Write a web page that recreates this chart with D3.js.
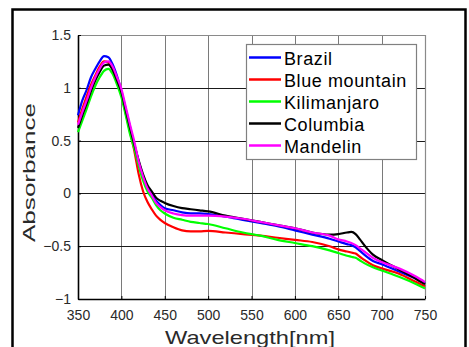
<!DOCTYPE html>
<html>
<head>
<meta charset="utf-8">
<script src="https://cdn.jsdelivr.net/npm/d3@7"></script>
<style>
  html, body { margin: 0; padding: 0; background: #fff; }
  svg { display: block; font-family: "Liberation Sans", Arial, sans-serif; }
</style>
</head>
<body>
<div id="chart"></div>
<script>
// wavelength axis (nm)
const wavelengths = [350,355,360,365,370,375,380,385,390,395,400,405,410,415,420,425,430,435,440,445,450,460,470,480,490,500,520,540,560,580,600,620,640,650,660,665,670,675,680,690,700,720,740,750];

const brazil = [0.74,0.88,0.98,1.10,1.18,1.25,1.30,1.29,1.22,1.11,0.97,0.80,0.63,0.46,0.30,0.16,0.05,-0.01,-0.07,-0.11,-0.14,-0.16,-0.18,-0.19,-0.19,-0.195,-0.22,-0.25,-0.28,-0.31,-0.35,-0.39,-0.43,-0.455,-0.48,-0.49,-0.51,-0.545,-0.58,-0.64,-0.67,-0.74,-0.81,-0.85];
const blueMountain = [0.67,0.80,0.92,1.03,1.12,1.20,1.25,1.24,1.18,1.07,0.94,0.76,0.58,0.40,0.18,0.02,-0.08,-0.15,-0.21,-0.25,-0.28,-0.32,-0.35,-0.36,-0.36,-0.355,-0.37,-0.385,-0.40,-0.42,-0.44,-0.46,-0.50,-0.53,-0.55,-0.56,-0.57,-0.60,-0.63,-0.68,-0.71,-0.76,-0.84,-0.88];
const kilimanjaro = [0.58,0.69,0.80,0.92,1.02,1.10,1.16,1.18,1.13,1.03,0.91,0.74,0.56,0.42,0.26,0.12,0.02,-0.04,-0.11,-0.16,-0.19,-0.23,-0.25,-0.27,-0.28,-0.29,-0.33,-0.37,-0.40,-0.44,-0.47,-0.50,-0.54,-0.565,-0.59,-0.60,-0.61,-0.635,-0.66,-0.70,-0.73,-0.79,-0.86,-0.90];
const columbia = [0.62,0.74,0.85,0.97,1.07,1.15,1.21,1.22,1.17,1.07,0.96,0.79,0.62,0.46,0.31,0.18,0.08,0.02,-0.04,-0.07,-0.09,-0.12,-0.14,-0.15,-0.16,-0.17,-0.21,-0.24,-0.27,-0.30,-0.33,-0.37,-0.39,-0.385,-0.37,-0.365,-0.385,-0.435,-0.49,-0.58,-0.63,-0.72,-0.81,-0.86];
const mandelin = [0.65,0.77,0.88,1.00,1.10,1.18,1.24,1.25,1.20,1.10,0.99,0.82,0.65,0.49,0.30,0.16,0.05,-0.02,-0.09,-0.13,-0.16,-0.19,-0.205,-0.21,-0.21,-0.21,-0.22,-0.24,-0.27,-0.30,-0.33,-0.37,-0.40,-0.435,-0.455,-0.47,-0.49,-0.52,-0.55,-0.61,-0.65,-0.71,-0.79,-0.84];

const seriesNames = ["Brazil", "Blue mountain", "Kilimanjaro", "Columbia", "Mandelin"];
const seriesColors = ["#0000ff", "#ff0000", "#00ff00", "#000000", "#ff00ff"];
const seriesValues = [brazil, blueMountain, kilimanjaro, columbia, mandelin];

const xTicks = [350,400,450,500,550,600,650,700,750];
const yTicks = [-1,-0.5,0,0.5,1,1.5];

const width = 469, height = 347;
const plot = { left: 78, right: 425, top: 35, bottom: 299 };

const svg = d3.select("#chart").append("svg")
  .attr("width", width)
  .attr("height", height);

// outer frame (cut off at bottom)
svg.append("rect")
  .attr("x", 12.5).attr("y", 9.5)
  .attr("width", 453).attr("height", 360)
  .attr("fill", "none")
  .attr("stroke", "#000")
  .attr("stroke-width", 2.5);

const x = d3.scaleLinear().domain([350, 750]).range([plot.left, plot.right]);
const y = d3.scaleLinear().domain([-1, 1.5]).range([plot.bottom, plot.top]);

// grid
svg.append("g").selectAll("line")
  .data(xTicks.slice(1, -1))
  .join("line")
    .attr("x1", d => Math.round(x(d)) + 0.5).attr("x2", d => Math.round(x(d)) + 0.5)
    .attr("y1", plot.top).attr("y2", plot.bottom)
    .attr("stroke", "#7a7a7a").attr("stroke-width", 1);

svg.append("g").selectAll("line")
  .data(yTicks.slice(1, -1))
  .join("line")
    .attr("x1", plot.left).attr("x2", plot.right)
    .attr("y1", d => Math.round(y(d)) + 0.5).attr("y2", d => Math.round(y(d)) + 0.5)
    .attr("stroke", "#1a1a1a").attr("stroke-width", 1);

// top / right frame in grey
svg.append("path")
  .attr("d", `M${plot.left},${plot.top + 0.5}H${plot.right + 0.5}V${plot.bottom}`)
  .attr("fill", "none")
  .attr("stroke", "#8a8a8a").attr("stroke-width", 1.2);

// axes
const xAxis = svg.append("g")
  .attr("transform", `translate(0,${plot.bottom})`)
  .call(d3.axisBottom(x).tickValues(xTicks).tickSizeInner(-3).tickSizeOuter(0).tickPadding(8));
const yAxis = svg.append("g")
  .attr("transform", `translate(${plot.left},0)`)
  .call(d3.axisLeft(y).tickValues(yTicks).tickSizeInner(-3).tickSizeOuter(0).tickPadding(8)
    .tickFormat(d => d < 0 ? "\u2212" + Math.abs(d) : String(d)));

[xAxis, yAxis].forEach(g => {
  g.select(".domain").attr("stroke", "#000").attr("stroke-width", 1.6);
  g.selectAll(".tick line").attr("stroke", "#000");
  g.selectAll(".tick text")
    .attr("fill", "#2a2a2a")
    .style("font-size", "14px")
    .style("font-family", "'Liberation Sans', Arial, sans-serif");
});
xAxis.selectAll(".tick text").attr("dy", "0.9em");
yAxis.selectAll(".tick text").attr("x", -7);

// lines
const line = d3.line()
  .x((d, i) => x(wavelengths[i]))
  .y(d => y(d))
  .curve(d3.curveMonotoneX);

svg.append("g").selectAll("path")
  .data(seriesValues)
  .join("path")
    .attr("d", line)
    .attr("fill", "none")
    .attr("stroke", (d, i) => seriesColors[i])
    .attr("stroke-width", 2.2)
    .attr("stroke-linejoin", "round");

// axis titles
svg.append("text")
  .attr("x", 250).attr("y", 344)
  .attr("text-anchor", "middle")
  .attr("textLength", 170)
  .attr("lengthAdjust", "spacingAndGlyphs")
  .style("font-size", "19px")
  .attr("fill", "#2a2a2a")
  .text("Wavelength[nm]");

svg.append("text")
  .attr("transform", "translate(35,172.5) rotate(-90)")
  .attr("text-anchor", "middle")
  .attr("textLength", 139)
  .attr("lengthAdjust", "spacingAndGlyphs")
  .style("font-size", "17px")
  .attr("fill", "#2a2a2a")
  .text("Absorbance");

// legend
const legend = svg.append("g");
legend.append("rect")
  .attr("x", 246.5).attr("y", 44.5)
  .attr("width", 170).attr("height", 115)
  .attr("fill", "#fff")
  .attr("stroke", "#808080").attr("stroke-width", 1.2);

const rows = legend.selectAll("g.row")
  .data(seriesNames)
  .join("g")
    .attr("class", "row")
    .attr("transform", (d, i) => `translate(0,${57.5 + i * 22})`);

rows.append("line")
  .attr("x1", 249).attr("x2", 281)
  .attr("stroke", (d, i) => seriesColors[i])
  .attr("stroke-width", 2.5);

rows.append("text")
  .attr("x", 284).attr("y", 7.5)
  .style("font-size", "18px")
  .style("letter-spacing", "0.6px")
  .attr("fill", "#000")
  .text(d => d);
</script>
</body>
</html>
